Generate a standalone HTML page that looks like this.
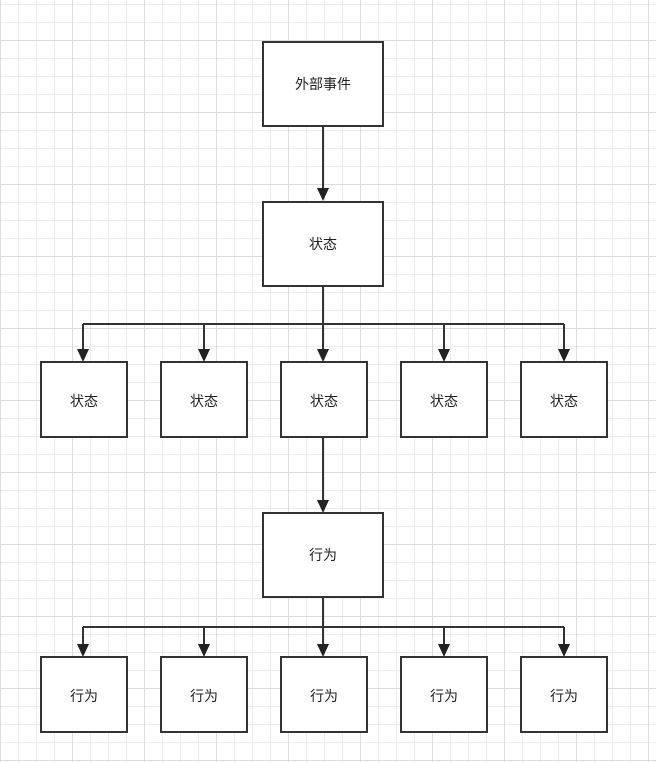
<!DOCTYPE html>
<html><head><meta charset="utf-8"><style>
html,body{margin:0;padding:0;}
body{width:656px;height:762px;overflow:hidden;background:#fff;
background-image:
linear-gradient(#dcdcdc 1px,transparent 1px),
linear-gradient(90deg,#dcdcdc 1px,transparent 1px),
linear-gradient(#ececec 1px,transparent 1px),
linear-gradient(90deg,#ececec 1px,transparent 1px);
background-size:72px 72px,72px 72px,18px 18px,18px 18px;
background-position:0 40px,0 0,0 4px,0 0;}
</style></head><body>
<svg width="656" height="762" style="position:absolute;left:0;top:0" font-family="Liberation Sans, Noto Sans CJK SC, sans-serif" font-size="14">
<defs><marker id="a" markerWidth="10" markerHeight="12" refX="5" refY="11" orient="auto" markerUnits="userSpaceOnUse"><path d="M0,0 L10,0 L5,12 Z" fill="#222" transform="rotate(-90 5 6) translate(0 0)"/></marker></defs>
<g fill="#fff" stroke="#333" stroke-width="2">
<rect x="263" y="42" width="120" height="84"/>
<rect x="263" y="202" width="120" height="84"/>
<rect x="41" y="362" width="86" height="75"/>
<rect x="161" y="362" width="86" height="75"/>
<rect x="281" y="362" width="86" height="75"/>
<rect x="401" y="362" width="86" height="75"/>
<rect x="521" y="362" width="86" height="75"/>
<rect x="263" y="513" width="120" height="84"/>
<rect x="41" y="657" width="86" height="75"/>
<rect x="161" y="657" width="86" height="75"/>
<rect x="281" y="657" width="86" height="75"/>
<rect x="401" y="657" width="86" height="75"/>
<rect x="521" y="657" width="86" height="75"/>
</g>
<g stroke="#333" stroke-width="2" fill="none">
<path d="M323 126V190M323 286V324M83 324H564M83 324V350M204 324V350M323 324V350M444 324V350M564 324V350M323 437V501M323 597V627M83 627H564M83 627V645M204 627V645M323 627V645M444 627V645M564 627V645"/>
</g>
<g fill="#222">
<path d="M317 188h12l-6 13z"/>
<path d="M77 349h12l-6 13z"/><path d="M198 349h12l-6 13z"/><path d="M317 349h12l-6 13z"/><path d="M438 349h12l-6 13z"/><path d="M558 349h12l-6 13z"/>
<path d="M317 500h12l-6 13z"/>
<path d="M77 644h12l-6 13z"/><path d="M198 644h12l-6 13z"/><path d="M317 644h12l-6 13z"/><path d="M438 644h12l-6 13z"/><path d="M558 644h12l-6 13z"/>
</g>
<g fill="#222" text-anchor="middle">
<text x="323" y="89">外部事件</text>
<text x="323" y="249">状态</text>
<text x="84" y="406">状态</text><text x="204" y="406">状态</text><text x="324" y="406">状态</text><text x="444" y="406">状态</text><text x="564" y="406">状态</text>
<text x="323" y="560">行为</text>
<text x="84" y="701">行为</text><text x="204" y="701">行为</text><text x="324" y="701">行为</text><text x="444" y="701">行为</text><text x="564" y="701">行为</text>
</g>
</svg>
</body></html>
